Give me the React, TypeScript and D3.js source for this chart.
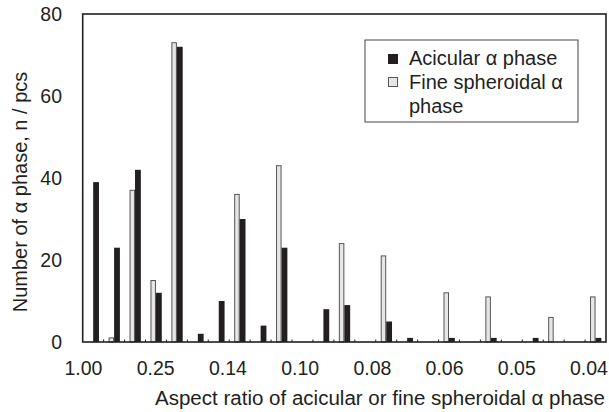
import React from "react";
import * as d3 from "d3";

const categories = Array.from({ length: 25 }, (_, i) => `bin${i + 1}`);
const acicular = [39, 23, 42, 12, 72, 2, 10, 30, 4, 23, 0, 8, 9, 0, 5, 1, 0, 1, 0, 1, 0, 1, 0, 0, 1];
const spheroidal = [0, 1, 37, 15, 73, 0, 0, 36, 0, 43, 0, 0, 24, 0, 21, 0, 0, 12, 0, 11, 0, 0, 6, 0, 11];
const xTickLabels = ["1.00", "0.25", "0.14", "0.10", "0.08", "0.06", "0.05", "0.04"];
const yTicks = [0, 20, 40, 60, 80];
const seriesNames = ["spheroidal", "acicular"];

const W = 609, H = 412;
const L = 82.7, R = 606, T = 14, B = 342;
const FONT = "'Liberation Sans', Arial, sans-serif";
const FS = 20;

export default function App() {
  const x0 = d3.scaleBand<string>().domain(categories).range([L, R]).padding(0);
  const x1 = d3.scaleBand<string>().domain(seriesNames).range([0, x0.bandwidth()]).paddingInner(0).paddingOuter(0.9);
  const y = d3.scaleLinear().domain([0, 80]).range([B, T]);
  const labelX = d3.scalePoint<string>().domain(xTickLabels).range([83.5, 589]);

  const boundaries = categories.slice(1).map((c) => x0(c)!);

  return (
    <svg width={W} height={H} style={{ position: "absolute", left: 0, top: 0, background: "#fff" }} fontFamily={FONT}>
      {categories.map((c, i) => (
        <g key={c}>
          {spheroidal[i] > 0 && (
            <rect
              x={x0(c)! + x1("spheroidal")! + 0.5}
              y={y(spheroidal[i])}
              width={x1.bandwidth() - 1}
              height={B - y(spheroidal[i])}
              fill="#e6e6e6"
              stroke="#555"
              strokeWidth={1}
            />
          )}
          {acicular[i] > 0 && (
            <rect
              x={x0(c)! + x1("acicular")!}
              y={y(acicular[i])}
              width={x1.bandwidth() + 0.3}
              height={B - y(acicular[i])}
              fill="#231f20"
            />
          )}
        </g>
      ))}
      {boundaries.map((bx, i) => (
        <line key={i} x1={bx} x2={bx} y1={B} y2={B - 2.5} stroke="#231f20" strokeWidth={1} />
      ))}
      <rect x={L} y={T} width={R - L} height={B - T} fill="none" stroke="#231f20" strokeWidth={1.6} />
      {yTicks.map((t) => (
        <text key={t} x={62} y={y(t)} dy="0.35em" textAnchor="end" fontSize={19.5} fill="#231f20">
          {t}
        </text>
      ))}
      {xTickLabels.map((l) => (
        <text key={l} x={labelX(l)} y={368} dy="0.35em" textAnchor="middle" fontSize={19.5} fill="#231f20">
          {l}
        </text>
      ))}
      <text x={605} y={398} dy="0.35em" textAnchor="end" fontSize={FS} fill="#231f20" textLength={450} lengthAdjust="spacingAndGlyphs">
        Aspect ratio of acicular or fine spheroidal α phase
      </text>
      <text
        transform={`translate(20,192) rotate(-90)`}
        dy="0.35em"
        textAnchor="middle"
        fontSize={FS}
        fill="#231f20"
      >
        Number of α phase, n / pcs
      </text>
      <g>
        <rect x={365} y={40} width={213} height={82} fill="#fff" stroke="#444" strokeWidth={1} />
        <rect x={388} y={54} width={10} height={10} fill="#231f20" />
        <rect x={388.5} y={77.5} width={9} height={9} fill="#e6e6e6" stroke="#555" strokeWidth={1} />
        <text x={409} y={58} dy="0.35em" fontSize={FS} fill="#231f20">Acicular α phase</text>
        <text x={409} y={82} dy="0.35em" fontSize={FS} fill="#231f20">Fine spheroidal α</text>
        <text x={409} y={106} dy="0.35em" fontSize={FS} fill="#231f20">phase</text>
      </g>
    </svg>
  );
}
